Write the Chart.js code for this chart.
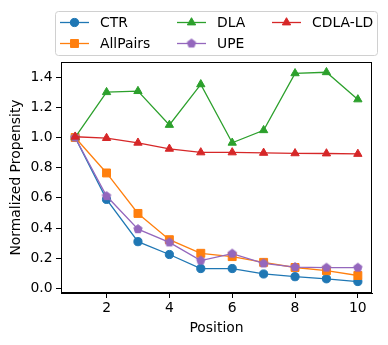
<!DOCTYPE html>
<html>
<head>
<meta charset="utf-8">
<script src="https://cdn.jsdelivr.net/npm/chart.js@4"></script>
<style>
  html, body { margin: 0; padding: 0; background: #ffffff; }
  #wrap { position: relative; width: 388px; height: 345px; }
</style>
</head>
<body>
<div id="wrap"><canvas id="c" width="388" height="345"></canvas></div>
<script>
const positions = [1, 2, 3, 4, 5, 6, 7, 8, 9, 10];
const seriesNames = ['CTR', 'AllPairs', 'DLA', 'UPE', 'CDLA-LD'];
const ctrValues = [1.0, 0.59, 0.31, 0.225, 0.132, 0.132, 0.096, 0.078, 0.064, 0.046];
const allPairsValues = [1.0, 0.765, 0.497, 0.323, 0.233, 0.211, 0.173, 0.139, 0.118, 0.086];
const dlaValues = [1.0, 1.30, 1.307, 1.083, 1.352, 0.965, 1.048, 1.425, 1.432, 1.252];
const upeValues = [1.0, 0.612, 0.393, 0.305, 0.185, 0.231, 0.166, 0.142, 0.138, 0.138];
const cdlaValues = [1.005, 0.996, 0.965, 0.925, 0.901, 0.901, 0.898, 0.895, 0.894, 0.891];
const yTickValues = [0.0, 0.2, 0.4, 0.6, 0.8, 1.0, 1.2, 1.4];
const xTickValues = [2, 4, 6, 8, 10];

const FONT = 'DejaVu Sans';
const FS = 13.9;

function makePentagon(color, r) {
  const size = Math.ceil(r * 2 + 3);
  const cv = document.createElement('canvas');
  cv.width = size; cv.height = size;
  const g = cv.getContext('2d');
  const cx = size / 2, cy = size / 2;
  g.beginPath();
  for (let i = 0; i < 5; i++) {
    const a = -Math.PI / 2 + i * 2 * Math.PI / 5;
    const px = cx + r * Math.cos(a), py = cy + r * Math.sin(a);
    if (i === 0) g.moveTo(px, py); else g.lineTo(px, py);
  }
  g.closePath();
  g.fillStyle = color; g.fill();
  g.strokeStyle = color; g.lineWidth = 1; g.stroke();
  return cv;
}

const colors = ['#1f77b4', '#ff7f0e', '#2ca02c', '#9467bd', '#d62728'];
const styles = ['circle', 'rect', 'triangle', makePentagon('#9467bd', 4.4), 'triangle'];
const radii = [4.1, 5.6, 4.8, 4.4, 4.8];
const valuesList = [ctrValues, allPairsValues, dlaValues, upeValues, cdlaValues];

const datasets = seriesNames.map((name, i) => ({
  label: name,
  data: positions.map((p, k) => ({ x: p, y: valuesList[i][k] })),
  borderColor: colors[i],
  backgroundColor: colors[i],
  pointBackgroundColor: colors[i],
  pointBorderColor: colors[i],
  pointBorderWidth: 1,
  pointStyle: styles[i],
  pointRadius: radii[i],
  pointHoverRadius: radii[i],
  borderWidth: 1.3,
  tension: 0,
  order: 5 - i
}));

const legendPos = [
  { col: 0, row: 0 }, { col: 0, row: 1 }, { col: 1, row: 0 }, { col: 1, row: 1 }, { col: 2, row: 0 }
];

const boxPlugin = {
  id: 'mplBox',
  afterDatasetsDraw(chart) {
    const { ctx, chartArea: a } = chart;
    ctx.save();
    ctx.strokeStyle = '#000';
    ctx.lineWidth = 1;
    ctx.strokeRect(Math.round(a.left) + 0.5, Math.round(a.top) + 0.5, Math.round(a.right - a.left) - 1, Math.round(a.bottom - a.top) - 1);
    ctx.restore();
  },
  afterDraw(chart) {
    const ctx = chart.ctx;
    ctx.save();
    const bx = 55.5, by = 11.5, bw = 322, bh = 44, rr = 3;
    ctx.beginPath();
    ctx.moveTo(bx + rr, by);
    ctx.lineTo(bx + bw - rr, by);
    ctx.quadraticCurveTo(bx + bw, by, bx + bw, by + rr);
    ctx.lineTo(bx + bw, by + bh - rr);
    ctx.quadraticCurveTo(bx + bw, by + bh, bx + bw - rr, by + bh);
    ctx.lineTo(bx + rr, by + bh);
    ctx.quadraticCurveTo(bx, by + bh, bx, by + bh - rr);
    ctx.lineTo(bx, by + rr);
    ctx.quadraticCurveTo(bx, by, bx + rr, by);
    ctx.closePath();
    ctx.fillStyle = 'rgba(255,255,255,0.8)';
    ctx.fill();
    ctx.strokeStyle = '#d0d0d0';
    ctx.lineWidth = 1;
    ctx.stroke();
    const colX = [60, 177, 272];
    const rowY = [22.5, 43.5];
    chart.data.datasets.forEach((ds, i) => {
      const p = legendPos[i];
      const x0 = colX[p.col], y0 = rowY[p.row];
      ctx.strokeStyle = ds.borderColor;
      ctx.lineWidth = ds.borderWidth;
      ctx.beginPath();
      ctx.moveTo(x0, y0);
      ctx.lineTo(x0 + 29, y0);
      ctx.stroke();
      ctx.fillStyle = ds.pointBackgroundColor;
      ctx.strokeStyle = ds.pointBorderColor;
      ctx.lineWidth = 1;
      Chart.helpers.drawPoint(ctx, { pointStyle: ds.pointStyle, radius: ds.pointRadius, rotation: 0, borderWidth: 1 }, x0 + 14.5, y0);
      ctx.fillStyle = '#000';
      ctx.font = FS + 'px "' + FONT + '"';
      ctx.textBaseline = 'middle';
      ctx.textAlign = 'left';
      ctx.fillText(ds.label, x0 + 40, y0 + 0.5);
    });
    ctx.restore();
  }
};

new Chart(document.getElementById('c'), {
  type: 'line',
  data: { datasets },
  plugins: [boxPlugin],
  options: {
    responsive: false,
    animation: false,
    devicePixelRatio: 1,
    layout: { padding: { top: 62, right: 16, left: 0, bottom: 0 } },
    plugins: { legend: { display: false }, tooltip: { enabled: false } },
    scales: {
      x: {
        type: 'linear',
        min: 0.55,
        max: 10.45,
        afterFit(s) { s.height = 52; },
        afterBuildTicks(s) { s.ticks = xTickValues.map(v => ({ value: v })); },
        ticks: { color: '#000', font: { family: FONT, size: FS }, padding: 2, maxRotation: 0, callback: v => String(v) },
        grid: { display: true, drawOnChartArea: false, drawTicks: true, tickLength: 5, tickColor: '#000', tickWidth: 1 },
        border: { display: true, color: '#000', width: 1 },
        title: { display: true, text: 'Position', color: '#000', font: { family: FONT, size: FS }, padding: { top: 0, bottom: 8 } }
      },
      y: {
        type: 'linear',
        min: -0.03,
        max: 1.5,
        afterFit(s) { s.width = 61; },
        afterBuildTicks(s) { s.ticks = yTickValues.map(v => ({ value: v })); },
        ticks: { color: '#000', font: { family: FONT, size: FS }, padding: 3.5, callback: v => Number(v).toFixed(1) },
        grid: { display: true, drawOnChartArea: false, drawTicks: true, tickLength: 5, tickColor: '#000', tickWidth: 1 },
        border: { display: true, color: '#000', width: 1 },
        title: { display: true, text: 'Normalized Propensity', color: '#000', font: { family: FONT, size: FS }, padding: { top: 8, bottom: 0 } }
      }
    }
  }
});
</script>
</body>
</html>
